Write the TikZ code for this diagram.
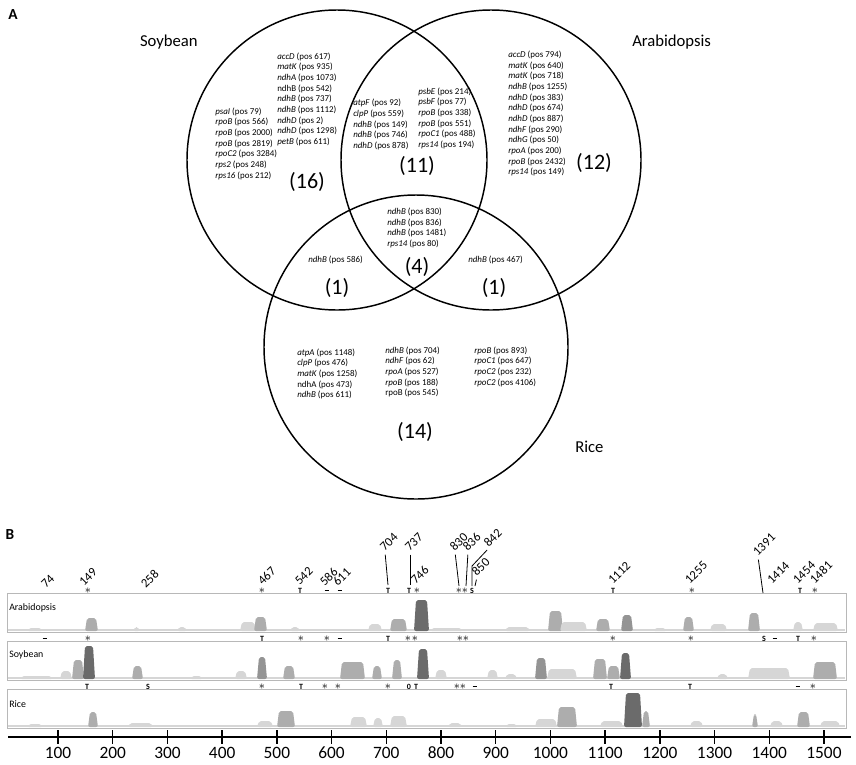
\documentclass[tikz,border=0pt]{standalone}
\usepackage{fontspec}
\setmainfont{Carlito}
\usepackage{tikz}
\definecolor{lt}{gray}{0.84}
\definecolor{md}{gray}{0.68}
\definecolor{mdd}{gray}{0.58}
\definecolor{dk}{gray}{0.42}
\definecolor{frame}{gray}{0.72}
\newcommand{\st}{{\fontsize{9.5}{9.5}\selectfont$\ast$}}
\newcommand{\dsh}{\rule{3.5pt}{1.3pt}}

\begin{document}
\begin{tikzpicture}[x=0.75pt, y=-0.75pt,
  venn/.style={draw, circle, line width=1.1pt, inner sep=0pt},
  genes/.style={font=\fontsize{6.7}{8}\selectfont, align=left, anchor=north west, inner sep=0pt},
  count/.style={font=\fontsize{16.5}{19}\selectfont, inner sep=0pt},
  species/.style={font=\fontsize{12.5}{15}\selectfont, inner sep=0pt},
  panel/.style={font=\fontsize{11.5}{14}\selectfont\bfseries, inner sep=0pt},
  trackbox/.style={draw=frame, line width=0.7pt, anchor=north west, minimum width=629.25pt, minimum height=29.25pt, inner sep=0pt},
  trackname/.style={font=\fontsize{7.4}{9}\selectfont, anchor=west, inner sep=0pt},
  poslab/.style={font=\fontsize{9.5}{11}\selectfont, rotate=45, anchor=south west, inner sep=0pt},
  site/.style={font=\fontsize{6}{7}\selectfont\bfseries, inner sep=0pt},
  leader/.style={line width=0.6pt, shorten <=2pt},
  tick/.style={line width=1pt},
  ticklab/.style={font=\fontsize{13}{15}\selectfont, inner sep=0pt}
]
  \useasboundingbox (0,0) rectangle (856,764);

  % Panel A
  \node[panel] (pa) at (13,15) {A};
  \node[venn, minimum size=225pt] (soy)  at (337,160) {};
  \node[venn, minimum size=225pt] (arab) at (491,160) {};
  \node[venn, minimum size=228pt] (rice) at (416,347) {};
  \node[species, anchor=base east] (soylab)  at (198,46)  {Soybean};
  \node[species, anchor=base west] (arablab) at (632,46)  {Arabidopsis};
  \node[species, anchor=base west] (ricelab) at (575,452) {Rice};

  % Soybean only
  \node[genes] (soyb) at (277,52.4) {\textit{accD} (pos 617)\\\textit{matK} (pos 935)\\\textit{ndhA} (pos 1073)\\ndhB (pos 542)\\\textit{ndhB} (pos 737)\\\textit{ndhB} (pos 1112)\\\textit{ndhD} (pos 2)\\\textit{ndhD} (pos 1298)\\\textit{petB} (pos 611)};
  \node[genes] (soya) at (215,107.4) {\textit{psaI} (pos 79)\\\textit{rpoB} (pos 566)\\\textit{rpoB} (pos 2000)\\\textit{rpoB} (pos 2819)\\\textit{rpoC2} (pos 3284)\\\textit{rps2} (pos 248)\\\textit{rps16} (pos 212)};
  \node[count] (n16) at (307,182) {(16)};

  % Soybean and Arabidopsis
  \node[genes] (sa1) at (353,99) {\textit{atpF} (pos 92)\\\textit{clpP} (pos 559)\\\textit{ndhB} (pos 149)\\\textit{ndhB} (pos 746)\\\textit{ndhD} (pos 878)};
  \node[genes] (sa2) at (418,87.4) {\textit{psbE} (pos 214)\\\textit{psbF} (pos 77)\\\textit{rpoB} (pos 338)\\\textit{rpoB} (pos 551)\\\textit{rpoC1} (pos 488)\\\textit{rps14} (pos 194)};
  \node[count] (n11) at (417,166) {(11)};

  % Arabidopsis only
  \node[genes] (arabg) at (508,50.7) {\textit{accD} (pos 794)\\\textit{matK} (pos 640)\\\textit{matK} (pos 718)\\\textit{ndhB} (pos 1255)\\\textit{ndhD} (pos 383)\\\textit{ndhD} (pos 674)\\\textit{ndhD} (pos 887)\\\textit{ndhF} (pos 290)\\\textit{ndhG} (pos 50)\\\textit{rpoA} (pos 200)\\\textit{rpoB} (pos 2432)\\\textit{rps14} (pos 149)};
  \node[count] (n12) at (594,163) {(12)};

  % All three and pairs with Rice
  \node[genes] (allg) at (387,207.7) {\textit{ndhB} (pos 830)\\\textit{ndhB} (pos 836)\\\textit{ndhB} (pos 1481)\\\textit{rps14} (pos 80)};
  \node[count] (n4) at (417,267) {(4)};
  \node[genes] (sr) at (308,255.7) {\textit{ndhB} (pos 586)};
  \node[count] (n1a) at (337,288) {(1)};
  \node[genes] (ar) at (468,255.7) {\textit{ndhB} (pos 467)};
  \node[count] (n1b) at (494,288) {(1)};

  % Rice only
  \node[genes] (ri1) at (297,348.4) {\textit{atpA} (pos 1148)\\\textit{clpP} (pos 476)\\\textit{matK} (pos 1258)\\ndhA (pos 473)\\\textit{ndhB} (pos 611)};
  \node[genes] (ri2) at (385,346.4) {\textit{ndhB} (pos 704)\\\textit{ndhF} (pos 62)\\\textit{rpoA} (pos 527)\\\textit{rpoB} (pos 188)\\rpoB (pos 545)};
  \node[genes] (ri3) at (474,346.4) {\textit{rpoB} (pos 893)\\\textit{rpoC1} (pos 647)\\\textit{rpoC2} (pos 232)\\\textit{rpoC2} (pos 4106)};
  \node[count] (n14) at (415,432) {(14)};

  % Panel B
  \node[panel] (pb) at (10,535) {B};

  % profiles
  \fill[lt] (8,631) rectangle (845,629);
  \fill[lt] (8,679) rectangle (845,677);
  \fill[lt] (8,727) rectangle (845,725);
  \foreach \a/\b/\t/\c in {27/43/628/lt, 85/98/618/md, 133/140/627/lt, 177/187/627/lt,
      240/256/622/lt, 254/267/617/md, 290/300/627/lt, 368/382/624/lt, 390/407/619/md,
      414/429/600/dk, 430/463/628/lt, 505/530/627/lt, 548/563/611/md, 560/587/622/lt,
      596/610/619/md, 621/633/615/mdd, 653/667/628/lt, 683/694/617/md, 710/727/624/lt,
      748/760/613/md, 793/803/622/lt, 813/838/623/lt}
    \fill[\c, rounded corners=1.5pt] (\a,631) -- (\a+2,\t) -- (\b-2,\t) -- (\b,631) -- cycle;
  \foreach \a/\b/\t/\c in {20/53/676/lt, 60/72/671/lt, 72/84/660/md, 83/95/646/dk,
      132/143/666/md, 190/203/676/lt, 235/247/671/lt, 257/267/657/mdd, 283/295/666/md,
      340/365/662/md, 372/382/666/md, 392/402/660/md, 417/429/649/dk, 435/447/670/lt,
      487/498/670/lt, 505/517/674/lt, 535/547/658/mdd, 547/577/669/lt, 593/607/659/md,
      607/620/666/md, 620/631/653/dk, 717/728/674/lt, 748/790/668/lt, 813/837/662/md}
    \fill[\c, rounded corners=1.5pt] (\a,679) -- (\a+2,\t) -- (\b-2,\t) -- (\b,679) -- cycle;
  \foreach \a/\b/\t/\c in {27/43/724/lt, 88/98/712/md, 128/153/723/lt, 257/273/721/lt,
      277/295/711/md, 350/367/717/lt, 373/383/718/lt, 390/407/716/lt, 448/462/723/lt,
      505/518/724/lt, 535/557/719/lt, 557/577/707/md, 600/623/721/lt, 624/642/693/dk,
      642/650/711/md, 690/703/721/lt, 752/758/714/md, 770/783/721/lt, 797/810/712/md,
      820/840/721/lt}
    \fill[\c, rounded corners=1.5pt] (\a,727) -- (\a+2,\t) -- (\b-2,\t) -- (\b,727) -- cycle;

  % tracks
  \node[trackbox] (arabbox) at (7,593) {};
  \node[trackbox] (soybox)  at (7,641) {};
  \node[trackbox] (ricebox) at (7,689) {};
  \node[trackname] (arabn) at (9,608) {Arabidopsis};
  \node[trackname] (soyn)  at (9,655) {Soybean};
  \node[trackname] (ricen) at (9,704) {Rice};

  % site marks
  \foreach \x/\s in {88/\st, 262/\st, 300/T, 327/\dsh, 340/\dsh, 388/T, 409/T, 417/\st,
      459/\st, 465/\st, 472/S, 613/T, 692/\st, 800/T, 815/\st}
    \node[site] (ma\x) at (\x,590.5) {\s};
  \foreach \x/\s in {45/\dsh, 88/\st, 262/T, 301/\st, 327/\st, 340/\dsh, 388/T, 408/\st,
      415/\st, 460/\st, 466/\st, 613/\st, 691/\st, 764/S, 775/\dsh, 798/T, 814/\st}
    \node[site] (ms\x) at (\x,638.5) {\s};
  \foreach \x/\s in {87/T, 148/S, 262/\st, 301/T, 325/\st, 338/\st, 388/\st, 409/0,
      416/T, 457/\st, 463/\st, 475/\dsh, 611/T, 690/T, 798/\dsh, 813/\st}
    \node[site] (mr\x) at (\x,686.5) {\s};

  % position labels
  \foreach \x/\y/\t in {46/589/74, 84/587/149, 146/589/258, 263/586/467, 300/586/542,
      325/587/586, 338/587/611, 416/585/746, 477/577/850, 613/585/1112, 690/585/1255,
      772/585/1414, 798/585/1454, 815/585/1481}
    \node[poslab] (p\t) at (\x,\y) {\t};
  \node[poslab] (p704) at (385,552) {704};
  \node[poslab] (p737) at (410,552) {737};
  \node[poslab] (p830) at (455,552) {830};
  \node[poslab] (p836) at (468,552) {836};
  \node[poslab] (p842) at (489,548) {842};
  \node[poslab] (p1391) at (758,557) {1391};
  \coordinate (e704) at (388,585);
  \coordinate (e737) at (410,585);
  \coordinate (e830) at (459,586);
  \coordinate (e836) at (466,586);
  \coordinate (k842) at (472,566);
  \coordinate (e842) at (472,586);
  \coordinate (e850) at (475,586);
  \coordinate (e1391) at (763,593);
  \draw[leader] (p704.south west) -- (e704);
  \draw[leader] (p737.south west) -- (e737);
  \draw[leader] (p830.south west) -- (e830);
  \draw[leader] (p836.south west) -- (e836);
  \draw[leader] (p842.south west) -- (k842) -- (e842);
  \draw[leader] (p850.south west) -- (e850);
  \draw[leader] (p1391.south west) -- (e1391);

  % axis
  \draw[line width=2.2pt] (8,737) -- (851,737);
  \foreach \v in {100,200,...,1500} {
    \draw[tick] (3.3+0.5471*\v,730) -- (3.3+0.5471*\v,744);
    \node[ticklab] (x\v) at (3.3+0.5471*\v,753) {\v};
  }
\end{tikzpicture}
\end{document}
